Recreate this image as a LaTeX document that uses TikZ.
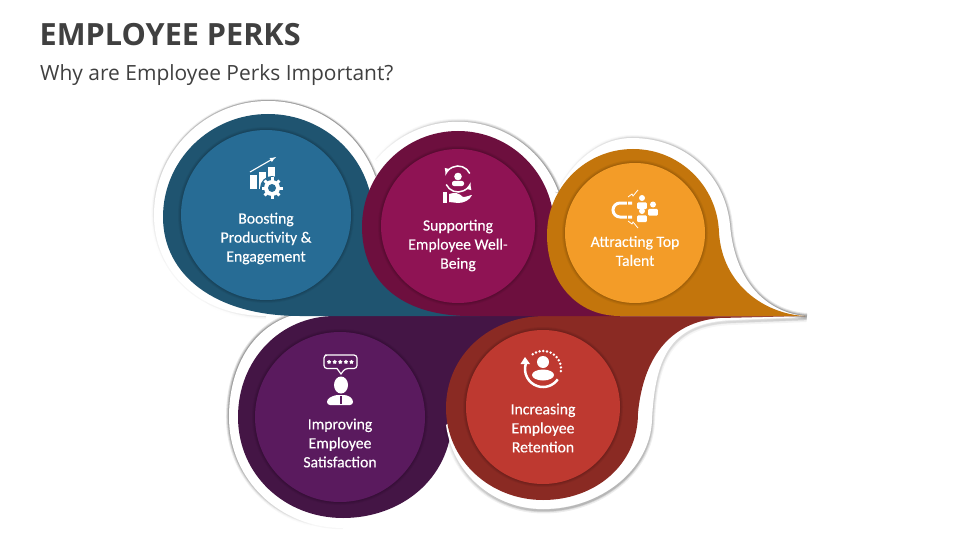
\documentclass[tikz,border=0pt]{standalone}
\usepackage{fontspec}
\setmainfont{Open Sans}
\newfontfamily\labelfont[FakeBold=.25]{Carlito}
\usetikzlibrary{shapes.geometric,fadings}
\definecolor{boostout}{HTML}{1F5470}
\definecolor{boostin}{HTML}{276C95}
\definecolor{careout}{HTML}{6D0F3E}
\definecolor{carein}{HTML}{8F1354}
\definecolor{talentout}{HTML}{C3750C}
\definecolor{talentin}{HTML}{F39C28}
\definecolor{satisout}{HTML}{441545}
\definecolor{satisin}{HTML}{5A1A5E}
\definecolor{retainout}{HTML}{8A2A23}
\definecolor{retainin}{HTML}{BE3930}
\definecolor{heading}{HTML}{404040}
\tikzset{
  softline/.style={draw=black,draw opacity=.03,line width=2.5pt},
  rim/.style 2 args={draw=black,draw opacity=.10,line width=6pt,path fading=#1,fading angle=#2,
    preaction={draw=black,draw opacity=.14,line width=4pt,path fading=#1,fading angle=#2},
    preaction={draw=black,draw opacity=.18,line width=2pt,path fading=#1,fading angle=#2}},
  disc/.style={circle,inner sep=0pt,
    preaction={draw=black,draw opacity=.05,line width=6pt},
    preaction={draw=black,draw opacity=.06,line width=4pt},
    preaction={draw=black,draw opacity=.07,line width=2pt}},
  tag/.style={text=white,align=center,inner sep=0pt,
    font=\labelfont\fontsize{15.7}{19}\selectfont},
}
\newcommand{\iconbust}[2]{
  \fill[white] (#1,#2) circle[radius=3];
  \fill[white,rounded corners=1pt] (#1-4.8,#2+11) rectangle (#1+4.8,#2+4.4);
}
% halo outlines
\def\haloboost{(266,316) .. controls (200,316) and (154,272) .. (154,215) arc[start angle=180,end angle=340,radius=114]}
\def\halocare{(376,160) arc[start angle=220,end angle=340,radius=107]}
\def\halotalent{(560,187) .. controls (578,155) and (605,138) .. (632,138) .. controls (685,138) and (725,175) .. (730,225) .. controls (735,285) and (770,314) .. (807,316)}
\def\halosatis{(290,316) .. controls (250,330) and (229,370) .. (229,417) .. controls (229,480) and (280,528) .. (343,528)}
\def\haloretain{(446,425) .. controls (453,475) and (495,509) .. (543,509) .. controls (600,509) and (650,470) .. (652,420) .. controls (655,355) and (672,322) .. (733,320) -- (807,317)}
\begin{document}
\begin{tikzpicture}[x=1pt,y=-1pt]
\useasboundingbox (0,0) rectangle (960,540);
\fill[white] (0,0) rectangle (960,540);
\node (title) [anchor=base west,inner sep=0pt,text=heading,font=\bfseries\fontsize{30.6}{36}\selectfont] at (39.5,46) {EMPLOYEE PERKS};
\node (subtitle) [anchor=base west,inner sep=0pt,text=heading,font=\fontsize{20.95}{24}\selectfont] at (40,81) {Why are Employee Perks Important?};

% lower row
\path[softline] \halosatis;
\path[rim={east}{-45}] \halosatis;
\fill[white] \halosatis -- (400,450) -- cycle;
\fill[satisout] (560,316) -- (335,316) .. controls (280,316) and (238,360) .. (238,417) .. controls (238,475) and (285,518) .. (343,518) .. controls (400,518) and (450,480) .. (452,420) -- (500,400) -- cycle;
\path[rim={north}{45},shift={(0,1)}] \haloretain;
\fill[white] \haloretain -- (600,316) -- cycle;
\fill[retainout] (805,316) -- (545,316) .. controls (490,316) and (446,355) .. (446,408) .. controls (446,460) and (490,500) .. (543,500) .. controls (595,500) and (638,465) .. (638,413) .. controls (643,360) and (668,322) .. (720,318) -- cycle;

% upper row
\path[softline] \haloboost;
\path[rim={west}{45}] \haloboost;
\fill[white] \haloboost -- cycle;
\fill[boostout] (300,316) .. controls (215,316) and (163,275) .. (163,217) arc[start angle=180,end angle=360,x radius=105,y radius=103] -- (480,316) -- cycle;
\path[softline] \halocare;
\path[rim={west}{0}] \halocare;
\fill[white] \halocare -- cycle;
\fill[careout] (470,316) .. controls (400,316) and (362,280) .. (362,227) arc[start angle=180,end angle=360,radius=96] -- (640,316) -- cycle;
\path[softline] \halotalent;
\path[rim={west}{0}] \halotalent;
\fill[white] \halotalent -- (620,316) -- cycle;
\fill[talentout] (805,316) -- (620,316) .. controls (575,316) and (547,280) .. (547,235) arc[start angle=180,end angle=358,radius=86] .. controls (722,285) and (765,314) .. cycle;

% inner discs
\node (boost) [disc,fill=boostin,minimum size=170pt] at (266,215) {};
\node (care) [disc,fill=carein,minimum size=154pt] at (458,226) {};
\node (talent) [disc,fill=talentin,minimum size=140pt] at (635,233) {};
\node (satis) [disc,fill=satisin,minimum size=170pt] at (340,417) {};
\node (retain) [disc,fill=retainin,minimum size=154pt] at (543,407) {};

% labels
\node (boosttag) [tag] at (266,238.5) {Boosting\\Productivity \&\\Engagement};
\node (caretag) [tag] at (458,245.5) {Supporting\\Employee Well-\\Being};
\node (talenttag) [tag] at (635,251) {Attracting Top\\Talent};
\node (satistag) [tag] at (340,443) {Improving\\Employee\\Satisfaction};
\node (retaintag) [tag] at (543,428) {Increasing\\Employee\\Retention};

% chart icon
\fill[white] (250,175) rectangle (257,189);
\fill[white] (259,172) rectangle (266,189);
\fill[white] (268,167) rectangle (275,180);
\draw[white,line width=1.1pt,-latex] (250,172) -- (276,157);
\fill[boostin] (272,188) circle[radius=12];
\foreach \a in {0,45,...,315}
  \draw[white,line width=3pt] (272,188) +(\a:7) -- +(\a:10.5);
\fill[white] (272,188) circle[radius=8];
\fill[boostin] (272,188) circle[radius=4];

% care icon
\draw[white,line width=1.5pt,-latex] (458,179) +(335:13) arc[start angle=335,end angle=195,radius=13];
\draw[white,line width=1.5pt,-latex] (458,179) +(155:13) arc[start angle=155,end angle=15,radius=13];
\fill[white] (458,176.5) circle[radius=3.8];
\fill[white,rounded corners=2pt] (452,186) rectangle (464,181);
\fill[white] (443,192) rectangle (447,203);
\fill[white] (449,194) .. controls (455,192) and (459,193) .. (463,197) .. controls (467,197) and (470,195) .. (472,195) .. controls (470,200) and (464,203) .. (458,203) -- (449,202) -- cycle;

% magnet icon
\draw[white,line width=3pt] (632,203) -- (620,203) arc[start angle=270,end angle=90,radius=7] -- (632,217);
\draw[talentin,line width=1pt] (627,200) -- (627,220);
\draw[white,line width=.8pt] (628,197) -- (632,194) -- (633,196) -- (638,190);
\draw[white,line width=.8pt] (628,221) -- (632,224) -- (633,222) -- (638,228);
\iconbust{642}{198}
\iconbust{653}{204.5}
\iconbust{642}{211}

% rating icon
\draw[white,line width=1.2pt,rounded corners=3pt] (328,355) -- (357,355) -- (357,368.5) -- (345,368.5) [sharp corners] -- (341,374) -- (337,368.5) [rounded corners=3pt] -- (324,368.5) -- (324,355) -- cycle;
\foreach \i in {1,...,5}
  \node (star\i) [star,star points=5,fill=white,inner sep=0pt,minimum size=4.5pt] at (323.5+\i*5.6,362) {};
\fill[white] (341,385) ellipse[x radius=7,y radius=8.5];
\fill[white,rounded corners=3pt] (327,405) -- (327,399) -- (335,395) -- (347,395) -- (353,399) -- (353,405) -- cycle;
\fill[satisin] (340,396) rectangle (342,404);

% retention icon
\foreach \a in {235,247,...,373}
  \fill[white] (543,369) +(\a:18) circle[radius=1.35];
\draw[white,line width=2.5pt] (543,369) +(198:18) arc[start angle=198,end angle=35,radius=18];
\fill[white] (525,357) -- (520.5,364) -- (530,364) -- cycle;
\fill[white] (543,362) circle[radius=6];
\fill[white] (543,375) ellipse[x radius=11,y radius=5.5];
\end{tikzpicture}
\end{document}
